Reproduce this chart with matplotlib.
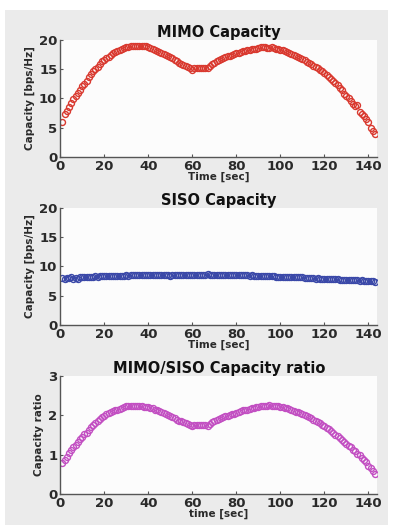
"""MIMO vs SISO channel capacity over time, three stacked panels."""

import matplotlib

matplotlib.use("Agg")
import matplotlib.pyplot as plt
from matplotlib.patches import Rectangle

# time axis [sec]
TIME = list(range(1, 144))

MIMO_CAP = [
    6.0, 7.4, 7.9, 8.5, 9.2, 9.8, 10.4, 10.9, 11.5, 12.1,
    12.5, 13.0, 13.6, 14.2, 14.7, 15.0, 15.4, 15.9, 16.3, 16.6,
    16.9, 17.1, 17.4, 17.7, 17.9, 18.1, 18.3, 18.4, 18.6, 18.8,
    18.8, 18.9, 19.0, 19.0, 18.9, 19.0, 19.0, 18.9, 18.9, 18.8,
    18.6, 18.5, 18.3, 18.1, 17.9, 17.8, 17.6, 17.4, 17.2, 17.0,
    16.8, 16.6, 16.3, 16.1, 15.9, 15.7, 15.6, 15.4, 15.1, 14.9,
    15.1, 15.2, 15.1, 15.2, 15.2, 15.1, 15.2, 15.5, 15.8, 16.0,
    16.3, 16.5, 16.7, 16.9, 17.0, 17.2, 17.3, 17.4, 17.6, 17.7,
    17.8, 17.9, 18.0, 18.1, 18.2, 18.3, 18.4, 18.5, 18.5, 18.6,
    18.7, 18.8, 18.7, 18.6, 18.6, 18.7, 18.6, 18.5, 18.4, 18.3,
    18.2, 18.1, 17.9, 17.8, 17.6, 17.4, 17.3, 17.1, 16.9, 16.7,
    16.5, 16.2, 16.0, 15.8, 15.6, 15.4, 15.1, 14.9, 14.6, 14.3,
    14.0, 13.6, 13.3, 12.9, 12.6, 12.2, 11.8, 11.4, 10.8, 10.4,
    10.0, 9.6, 9.1, 8.7, 8.9, 7.7, 7.4, 6.9, 6.4, 5.9,
    5.0, 4.4, 3.9,
]

SISO_CAP = [
    8.0, 7.9, 8.0, 8.0, 8.1, 7.9, 8.0, 7.8, 8.1, 8.1,
    8.2, 8.1, 8.2, 8.2, 8.2, 8.3, 8.2, 8.3, 8.3, 8.3,
    8.3, 8.3, 8.4, 8.3, 8.4, 8.4, 8.4, 8.4, 8.4, 8.5,
    8.4, 8.5, 8.5, 8.5, 8.5, 8.5, 8.5, 8.5, 8.5, 8.5,
    8.5, 8.5, 8.6, 8.5, 8.5, 8.6, 8.6, 8.5, 8.6, 8.4,
    8.6, 8.6, 8.6, 8.6, 8.6, 8.6, 8.6, 8.6, 8.6, 8.6,
    8.6, 8.6, 8.6, 8.6, 8.6, 8.6, 8.7, 8.6, 8.6, 8.6,
    8.6, 8.6, 8.6, 8.6, 8.6, 8.6, 8.6, 8.5, 8.5, 8.5,
    8.5, 8.5, 8.5, 8.5, 8.5, 8.4, 8.5, 8.4, 8.4, 8.4,
    8.4, 8.4, 8.4, 8.3, 8.3, 8.3, 8.3, 8.2, 8.2, 8.2,
    8.2, 8.2, 8.2, 8.1, 8.1, 8.2, 8.1, 8.1, 8.1, 8.1,
    8.0, 8.0, 8.0, 8.0, 8.0, 7.9, 8.0, 7.9, 7.8, 7.9,
    7.8, 7.9, 7.8, 7.8, 7.8, 7.8, 7.7, 7.7, 7.7, 7.7,
    7.7, 7.6, 7.6, 7.6, 7.6, 7.5, 7.6, 7.5, 7.5, 7.5,
    7.5, 7.5, 7.4,
]

CAP_RATIO = [
    0.78, 0.85, 0.95, 1.05, 1.12, 1.18, 1.25, 1.33, 1.40, 1.45,
    1.52, 1.55, 1.62, 1.70, 1.76, 1.80, 1.85, 1.90, 1.95, 1.98,
    2.02, 2.05, 2.08, 2.10, 2.12, 2.14, 2.16, 2.18, 2.20, 2.22,
    2.22, 2.23, 2.24, 2.23, 2.22, 2.23, 2.22, 2.21, 2.21, 2.20,
    2.18, 2.17, 2.14, 2.12, 2.10, 2.08, 2.05, 2.03, 2.00, 1.98,
    1.95, 1.92, 1.89, 1.86, 1.84, 1.82, 1.80, 1.78, 1.75, 1.73,
    1.74, 1.75, 1.74, 1.75, 1.75, 1.74, 1.72, 1.78, 1.82, 1.85,
    1.88, 1.91, 1.93, 1.95, 1.97, 1.99, 2.00, 2.02, 2.04, 2.06,
    2.08, 2.10, 2.12, 2.13, 2.14, 2.16, 2.18, 2.19, 2.20, 2.21,
    2.22, 2.23, 2.23, 2.24, 2.25, 2.24, 2.24, 2.23, 2.22, 2.21,
    2.20, 2.19, 2.17, 2.15, 2.13, 2.11, 2.09, 2.07, 2.05, 2.02,
    2.00, 1.97, 1.95, 1.92, 1.89, 1.86, 1.82, 1.79, 1.75, 1.72,
    1.68, 1.64, 1.60, 1.55, 1.50, 1.46, 1.42, 1.38, 1.33, 1.28,
    1.22, 1.18, 1.12, 1.08, 1.02, 0.98, 0.92, 0.86, 0.80, 0.72,
    0.65, 0.58, 0.50,
]

TEXT = "#2a2a2a"

fig = plt.figure(figsize=(3.93, 5.30), dpi=100, facecolor="white")
fig.patches.append(Rectangle((5 / 393, 5 / 530), 383 / 393, 515 / 530,
                             transform=fig.transFigure, facecolor="#ebebeb",
                             edgecolor="none", zorder=-10))

panels = [
    # (rect, y, color, title, ylabel, ylim, yticks, xlabel)
    ([0.153, 0.704, 0.807, 0.221], MIMO_CAP, "#d9392f", "MIMO Capacity",
     "Capacity [bps/Hz]", (0, 20), [0, 5, 10, 15, 20], "Time [sec]"),
    ([0.153, 0.387, 0.807, 0.221], SISO_CAP, "#3a48a8", "SISO Capacity",
     "Capacity [bps/Hz]", (0, 20), [0, 5, 10, 15, 20], "Time [sec]"),
    ([0.153, 0.068, 0.807, 0.223], CAP_RATIO, "#c24fc2",
     "MIMO/SISO Capacity ratio", "Capacity ratio", (0, 3), [0, 1, 2, 3],
     "time [sec]"),
]

for rect, y, color, title, ylabel, ylim, yticks, xlabel in panels:
    ax = fig.add_axes(rect)
    ax.set_facecolor("#fcfcfc")
    ax.plot(TIME, y, linestyle="none", marker="o", markersize=4.3,
            markerfacecolor="none", markeredgecolor=color, markeredgewidth=1.0)
    ax.set_xlim(0, 144)
    ax.set_ylim(*ylim)
    ax.set_xticks(range(0, 141, 20))
    ax.set_yticks(yticks)
    ax.spines["top"].set_visible(False)
    ax.spines["right"].set_visible(False)
    for s in ("left", "bottom"):
        ax.spines[s].set_color("#555555")
        ax.spines[s].set_linewidth(1.0)
    ax.tick_params(direction="in", length=2.5, width=0.8, colors="#555555",
                   labelcolor=TEXT, labelsize=9.5, pad=2)
    for lab in ax.get_xticklabels() + ax.get_yticklabels():
        lab.set_fontweight("bold")
    ax.set_title(title, fontsize=10.5, fontweight="bold", color="#111111",
                 pad=1.5)
    ax.set_ylabel(ylabel, fontsize=7.5, fontweight="bold", color=TEXT,
                  labelpad=3)
    ax.set_xlabel(xlabel, fontsize=7.5, fontweight="bold", color=TEXT,
                  labelpad=-1)

fig.savefig("out.png", dpi=100, facecolor=fig.get_facecolor())
